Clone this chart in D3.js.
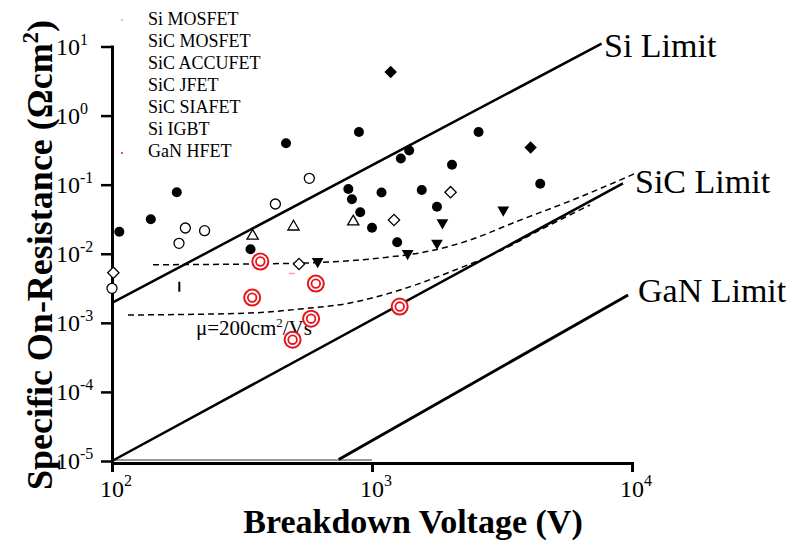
<!DOCTYPE html>
<html><head><meta charset="utf-8">
<script src="https://cdn.jsdelivr.net/npm/d3@7"></script>
<style>body{margin:0;background:#fff} svg{display:block} text{font-family:"Liberation Serif","Times New Roman",serif;fill:#000}</style>
</head><body><svg id="c" width="796" height="541"></svg>
<script>
// ---- data ----
const xTicks = [100, 1000, 10000];
const xTickExp = ["2", "3", "4"];
const yTicks = [10, 1, 0.1, 0.01, 1e-3, 1e-4, 1e-5];
const yTickExp = ["1", "0", "-1", "-2", "-3", "-4", "-5"];
const legendLabels = ["Si MOSFET", "SiC MOSFET", "SiC ACCUFET", "SiC JFET", "SiC SIAFET", "Si IGBT", "GaN HFET"];

const siMosfet = [[106.7,0.0208],[141,0.0315],[177.5,0.0775],[341,0.0116],[467,0.397],[811,0.0865],[837,0.0614],[891,0.578],[901,0.0398],[1000,0.0238],[1088,0.077],[1250,0.01465],[1291,0.239],[1390,0.312],[1554,0.0837],[1778,0.048],[2031,0.1945],[2570,0.578],[4436,0.103]];
const sicMosfet = [[100,3.16e-3],[181,0.01416],[191.5,0.0236],[227,0.0216],[425,0.0525],[574,0.1236]];
const sicAccufet = [[347.5,0.0181],[499,0.0246],[847,0.0291]];
const sicJfet = [[101.2,5.32e-3],[524,7.1e-3],[1215,0.0308],[2005,0.0778]];
const sicSiafet = [[618,7.72e-3],[1371,0.01014],[1778,0.01429],[1866,0.0281],[3198,0.043]];
const siIgbt = [[1180,4.27],[4074,0.345]];
const ganHfet = [[372,7.72e-3],[346,2.32e-3],[608,3.70e-3],[583,1.148e-3],[495,5.70e-4],[1278,1.72e-3]];
const strayBlack = [[181.5,3.33e-3]];
const strayRed = [[491,5.18e-3]];

const siLimit = [[100,1.94e-3],[7640,10.98]];
const sicLimit = [[100,1e-5],[9230,0.1047]];
const ganLimit = [[745,1.05e-5],[9660,2.53e-3]];
const upperCurve = [[143.8,6.94e-3],[339.5,7.10e-3],[689,7.59e-3],[1073,8.68e-3],[1671,0.01096],[2382,0.0158],[3483,0.0279],[6310,0.0663],[10180,0.1427]];
const lowerCurve = [[115.2,1.297e-3],[339.5,1.387e-3],[528,1.585e-3],[823,1.936e-3],[1282,2.99e-3],[1995,5.44e-3],[3105,0.01096],[4427,0.0221],[6890,0.0508]];
const greyBase = [[100,1e-5],[1000,1e-5]];

// ---- chart ----
const svg = d3.select("#c");
const x = d3.scaleLog().domain([100, 10000]).range([112, 632]);
const y = d3.scaleLog().domain([1e-5, 10]).range([461, 46.5]);
const line = d3.line().x(d => x(d[0])).y(d => y(d[1]));

// grey base line
svg.append("path").attr("d", line(greyBase)).attr("stroke", "#9a9a9a").attr("stroke-width", 2).attr("fill", "none")
  .attr("transform", "translate(0,-1)");

// axes
const xAxis = svg.append("g").attr("transform", "translate(0,463)")
  .call(d3.axisBottom(x).tickValues(xTicks).tickSize(9).tickSizeOuter(0).tickFormat(""));
xAxis.select(".domain").attr("stroke-width", 3).attr("stroke-linecap", "square");
xAxis.selectAll(".tick line").attr("stroke-width", 3);

const yAxis = svg.append("g").attr("transform", "translate(112,0)")
  .call(d3.axisLeft(y).tickValues(yTicks).tickSize(11).tickSizeOuter(0).tickFormat(""));
yAxis.select(".domain").attr("stroke-width", 3).attr("stroke-linecap", "square");
yAxis.selectAll(".tick line").attr("stroke-width", 2.5);

// tick labels
xTicks.forEach((v, i) => {
  const t = svg.append("text").attr("x", x(v) + 4).attr("y", 497).attr("text-anchor", "middle").attr("font-size", 24);
  t.append("tspan").text("10");
  t.append("tspan").attr("dy", -11).attr("font-size", 16).text(xTickExp[i]);
});
yTicks.forEach((v, i) => {
  const t = svg.append("text").attr("x", 56).attr("y", y(v) + 8).attr("font-size", 24);
  t.append("tspan").text("10");
  t.append("tspan").attr("dy", -10).attr("font-size", 16).text(yTickExp[i]);
});

// axis titles
svg.append("text").attr("x", 413).attr("y", 533).attr("text-anchor", "middle")
  .attr("font-size", 34).attr("font-weight", "bold").text("Breakdown Voltage (V)");
const yt = svg.append("text").attr("transform", "translate(52,255) rotate(-90)").attr("text-anchor", "middle")
  .attr("font-size", 36).attr("font-weight", "bold");
yt.append("tspan").text("Specific On-Resistance (Ωcm");
yt.append("tspan").attr("dy", -14).attr("font-size", 23).text("2");
yt.append("tspan").attr("dy", 14).text(")");

// limit lines
svg.append("path").attr("d", line(siLimit)).attr("stroke", "#000").attr("stroke-width", 2.5).attr("fill", "none");
svg.append("path").attr("d", line(sicLimit)).attr("stroke", "#000").attr("stroke-width", 2.5).attr("fill", "none");
svg.append("path").attr("d", line(ganLimit)).attr("stroke", "#000").attr("stroke-width", 3).attr("fill", "none");

// dashed curves
const curve = d3.line().x(d => x(d[0])).y(d => y(d[1])).curve(d3.curveMonotoneX);
svg.append("path").attr("d", curve(upperCurve)).attr("stroke", "#000").attr("stroke-width", 1.5)
  .attr("stroke-dasharray", "6,4").attr("fill", "none");
svg.append("path").attr("d", curve(lowerCurve)).attr("stroke", "#000").attr("stroke-width", 1.5)
  .attr("stroke-dasharray", "6,4").attr("fill", "none");

// labels
svg.append("text").attr("x", 604).attr("y", 57).attr("font-size", 34).text("Si Limit");
svg.append("text").attr("x", 635).attr("y", 193).attr("font-size", 34).text("SiC Limit");
svg.append("text").attr("x", 638).attr("y", 302).attr("font-size", 34).text("GaN Limit");
const mu = svg.append("text").attr("x", 196).attr("y", 335).attr("font-size", 21);
mu.append("tspan").text("μ=200cm");
mu.append("tspan").attr("dy", -8).attr("font-size", 13).text("2");
mu.append("tspan").attr("dy", 8).text("/Vs");

// legend
legendLabels.forEach((l, i) => {
  svg.append("text").attr("x", 148).attr("y", 25 + i * 22).attr("font-size", 18).text(l);
});
svg.append("circle").attr("cx", 122).attr("cy", 20).attr("r", 0.8).attr("fill", "#888");
svg.append("circle").attr("cx", 122).attr("cy", 153).attr("r", 0.9).attr("fill", "#e01010");

// stray marks
svg.selectAll(".sb").data(strayBlack).enter().append("line")
  .attr("x1", d => x(d[0])).attr("x2", d => x(d[0]))
  .attr("y1", d => y(d[1]) - 5).attr("y2", d => y(d[1]) + 5).attr("stroke", "#000").attr("stroke-width", 2);
svg.selectAll(".sr").data(strayRed).enter().append("line")
  .attr("x1", d => x(d[0]) - 3).attr("x2", d => x(d[0]) + 3)
  .attr("y1", d => y(d[1])).attr("y2", d => y(d[1])).attr("stroke", "#f2a0a0").attr("stroke-width", 1.5);

// markers
const g = svg.append("g");
g.selectAll(".sim").data(siMosfet).enter().append("circle")
  .attr("cx", d => x(d[0])).attr("cy", d => y(d[1])).attr("r", 5).attr("fill", "#000");
g.selectAll(".sicm").data(sicMosfet).enter().append("circle")
  .attr("cx", d => x(d[0])).attr("cy", d => y(d[1])).attr("r", 5).attr("fill", "#fff").attr("stroke", "#000").attr("stroke-width", 1.3);
const tri = d3.symbol().type(d3.symbolTriangle).size(55)();
g.selectAll(".acc").data(sicAccufet).enter().append("path").attr("d", tri)
  .attr("transform", d => `translate(${x(d[0])},${y(d[1])})`).attr("fill", "#fff").attr("stroke", "#000").attr("stroke-width", 1.3);
const sq = d3.symbol().type(d3.symbolSquare).size(64)();
g.selectAll(".jfet").data(sicJfet).enter().append("path").attr("d", sq)
  .attr("transform", d => `translate(${x(d[0])},${y(d[1])}) rotate(45)`).attr("fill", "#fff").attr("stroke", "#000").attr("stroke-width", 1.3);
const triD = d3.symbol().type(d3.symbolTriangle).size(60)();
g.selectAll(".siaf").data(sicSiafet).enter().append("path").attr("d", triD)
  .attr("transform", d => `translate(${x(d[0])},${y(d[1])}) rotate(180)`).attr("fill", "#000");
const sqF = d3.symbol().type(d3.symbolSquare).size(78)();
g.selectAll(".igbt").data(siIgbt).enter().append("path").attr("d", sqF)
  .attr("transform", d => `translate(${x(d[0])},${y(d[1])}) rotate(45)`).attr("fill", "#000");
const gan = g.selectAll(".gan").data(ganHfet).enter().append("g")
  .attr("transform", d => `translate(${x(d[0])},${y(d[1])})`);
gan.append("circle").attr("r", 8).attr("fill", "#fff").attr("stroke", "#e8141a").attr("stroke-width", 2);
gan.append("circle").attr("r", 4.3).attr("fill", "none").attr("stroke", "#e8141a").attr("stroke-width", 1.8);
</script></body></html>
